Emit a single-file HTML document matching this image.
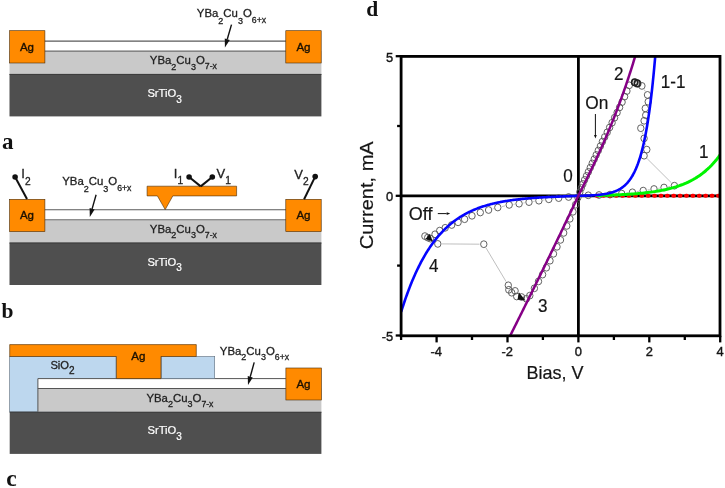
<!DOCTYPE html>
<html><head><meta charset="utf-8"><title>Figure</title>
<style>html,body{margin:0;padding:0;background:#fff;}svg{display:block;}text{font-family:'Liberation Sans', sans-serif;}</style>
</head><body>
<svg width="725" height="488" viewBox="0 0 725 488">
<rect width="725" height="488" fill="#fff"/>
<g id="pa">
<rect x="9.5" y="51.099999999999994" width="311.9" height="23.6" fill="#c9c9c9"/><rect x="9.5" y="74.1" width="311.9" height="42.3" fill="#4f4f4f"/><line x1="9.5" y1="74.4" x2="321.4" y2="74.4" stroke="#3a3a3a" stroke-width="1"/><rect x="44" y="41.1" width="243" height="10" fill="#fff"/><line x1="44" y1="41.1" x2="287" y2="41.1" stroke="#5a5a5a" stroke-width="1.1"/><line x1="44" y1="51.099999999999994" x2="287" y2="51.099999999999994" stroke="#6a6a6a" stroke-width="1.1"/><rect x="9.6" y="30.7" width="35.3" height="32.3" fill="#ff8a00" stroke="#4a2c08" stroke-width="0.6"/><text x="27" y="50.7" font-size="11.5" fill="#1a1000" text-anchor="middle" stroke="#1a1000" stroke-width="0.35">Ag</text><rect x="285.8" y="30.7" width="35.4" height="32.3" fill="#ff8a00" stroke="#4a2c08" stroke-width="0.6"/><text x="303.5" y="50.7" font-size="11.5" fill="#1a1000" text-anchor="middle" stroke="#1a1000" stroke-width="0.35">Ag</text><text x="149.8" y="63.900000000000006" font-size="11.4" fill="#222" stroke="#222" stroke-width="0.3">YBa<tspan font-size="9" dy="5.8">2</tspan><tspan dy="-5.8">Cu</tspan><tspan font-size="9" dy="5.8">3</tspan><tspan dy="-5.8">O</tspan><tspan font-size="8.7" dy="5.5">7-x</tspan></text><text x="147.4" y="97.2" font-size="11.2" fill="#fff" stroke="#fff" stroke-width="0.2">SrTiO<tspan font-size="10" dy="5.6">3</tspan></text>
<text x="196.8" y="16.8" font-size="11.4" fill="#222" stroke="#222" stroke-width="0.3">YBa<tspan font-size="9" dy="6.9">2</tspan><tspan dy="-6.9">Cu</tspan><tspan font-size="9" dy="6.9">3</tspan><tspan dy="-6.9">O</tspan><tspan font-size="8.7" dy="6.6000000000000005">6+x</tspan></text>
<line x1="231.5" y1="24.6" x2="227.26" y2="39.24" stroke="#111" stroke-width="1.4"/><polygon points="224.9,47.4 224.77,38.51 229.76,39.96" fill="#111"/>
</g>
<text x="2" y="148.7" font-size="23" font-weight="bold" style="font-family:'Liberation Serif', serif" fill="#111">a</text>
<g id="pb">
<rect x="9.5" y="219.70000000000002" width="311.9" height="23.6" fill="#c9c9c9"/><rect x="9.5" y="242.70000000000002" width="311.9" height="42.3" fill="#4f4f4f"/><line x1="9.5" y1="243.0" x2="321.4" y2="243.0" stroke="#3a3a3a" stroke-width="1"/><rect x="44" y="209.70000000000002" width="243" height="10" fill="#fff"/><line x1="44" y1="209.70000000000002" x2="287" y2="209.70000000000002" stroke="#5a5a5a" stroke-width="1.1"/><line x1="44" y1="219.70000000000002" x2="287" y2="219.70000000000002" stroke="#6a6a6a" stroke-width="1.1"/><rect x="9.6" y="199.3" width="35.3" height="32.3" fill="#ff8a00" stroke="#4a2c08" stroke-width="0.6"/><text x="27" y="219.3" font-size="11.5" fill="#1a1000" text-anchor="middle" stroke="#1a1000" stroke-width="0.35">Ag</text><rect x="285.8" y="199.3" width="35.4" height="32.3" fill="#ff8a00" stroke="#4a2c08" stroke-width="0.6"/><text x="303.5" y="219.3" font-size="11.5" fill="#1a1000" text-anchor="middle" stroke="#1a1000" stroke-width="0.35">Ag</text><text x="149.8" y="232.5" font-size="11.4" fill="#222" stroke="#222" stroke-width="0.3">YBa<tspan font-size="9" dy="5.8">2</tspan><tspan dy="-5.8">Cu</tspan><tspan font-size="9" dy="5.8">3</tspan><tspan dy="-5.8">O</tspan><tspan font-size="8.7" dy="5.5">7-x</tspan></text><text x="147.4" y="265.8" font-size="11.2" fill="#fff" stroke="#fff" stroke-width="0.2">SrTiO<tspan font-size="10" dy="5.6">3</tspan></text>
<text x="62.2" y="185.2" font-size="11.4" fill="#222" stroke="#222" stroke-width="0.3">YBa<tspan font-size="9" dy="6.4">2</tspan><tspan dy="-6.4">Cu</tspan><tspan font-size="9" dy="6.4">3</tspan><tspan dy="-6.4">O</tspan><tspan font-size="8.7" dy="6.1000000000000005">6+x</tspan></text>
<line x1="96.1" y1="194.7" x2="92.11" y2="208.82" stroke="#111" stroke-width="1.4"/><polygon points="89.8,217 89.61,208.11 94.61,209.53" fill="#111"/>
<path d="M147.1 186.2 H236.6 V195.9 H172.8 L165.2 209.6 L157.4 195.9 H147.1 Z" fill="#ff8a00" stroke="#4a2c08" stroke-width="0.6"/>
<line x1="15.1" y1="177" x2="27" y2="199" stroke="#111" stroke-width="2.0"/><circle cx="15.1" cy="177" r="2.8" fill="#111"/>
<line x1="189.1" y1="177" x2="200.7" y2="186.4" stroke="#111" stroke-width="2.0"/><circle cx="189.1" cy="177" r="2.8" fill="#111"/>
<line x1="212.3" y1="177" x2="200.7" y2="186.4" stroke="#111" stroke-width="2.0"/><circle cx="212.3" cy="177" r="2.8" fill="#111"/>
<line x1="315.2" y1="176.6" x2="304.1" y2="199.2" stroke="#111" stroke-width="2.0"/><circle cx="315.2" cy="176.6" r="2.8" fill="#111"/>
<text x="21.3" y="178.3" font-size="13" fill="#222" stroke="#222" stroke-width="0.3">I<tspan font-size="10.2" dy="6.5">2</tspan></text>
<text x="173.8" y="178" font-size="13" fill="#222" stroke="#222" stroke-width="0.3">I<tspan font-size="10.2" dy="5.6">1</tspan></text>
<text x="216.5" y="178" font-size="13" fill="#222" stroke="#222" stroke-width="0.3">V<tspan font-size="10.2" dy="5.6">1</tspan></text>
<text x="294.3" y="178.8" font-size="13" fill="#222" stroke="#222" stroke-width="0.3">V<tspan font-size="10.2" dy="6">2</tspan></text>
</g>
<text x="1.5" y="317.6" font-size="21.5" font-weight="bold" style="font-family:'Liberation Serif', serif" fill="#111">b</text>
<g id="pc">
<rect x="9.7" y="411.8" width="311.7" height="42.1" fill="#4f4f4f"/>
<rect x="9.7" y="356.5" width="106.3" height="55.4" fill="#bdd7ee" stroke="#5a6a7a" stroke-width="0.6"/>
<rect x="37.9" y="388.3" width="283.5" height="23.6" fill="#c9c9c9"/>
<line x1="9.7" y1="412.2" x2="321.4" y2="412.2" stroke="#3a3a3a" stroke-width="1"/>
<rect x="37.9" y="378.6" width="247.4" height="9.7" fill="#fff"/>
<path d="M37.9 411.8 V378.6 H285.9 M37.9 388.5 H285.9" fill="none" stroke="#555" stroke-width="1"/>
<rect x="161.3" y="356.5" width="53.4" height="22.1" fill="#bdd7ee" stroke="#5a6a7a" stroke-width="0.6"/>
<path d="M9.7 344.6 H196.3 V356.5 H160.9 V378.6 H116.5 V356.5 H9.7 Z" fill="#ff8a00" stroke="#4a2c08" stroke-width="0.6"/>
<rect x="285.9" y="368.0" width="35.5" height="32" fill="#ff8a00" stroke="#4a2c08" stroke-width="0.6"/>
<text x="303.5" y="388" font-size="11.5" fill="#1a1000" text-anchor="middle" stroke="#1a1000" stroke-width="0.35">Ag</text>
<text x="138.3" y="359.8" font-size="11.5" fill="#1a1000" text-anchor="middle" stroke="#1a1000" stroke-width="0.35">Ag</text>
<text x="50.4" y="368.8" font-size="11.2" fill="#222" stroke="#222" stroke-width="0.3">SiO<tspan font-size="10" dy="5.4">2</tspan></text>
<text x="219.8" y="354.6" font-size="11.4" fill="#222" stroke="#222" stroke-width="0.3">YBa<tspan font-size="9" dy="5.4">2</tspan><tspan dy="-5.4">Cu</tspan><tspan font-size="9" dy="5.4">3</tspan><tspan dy="-5.4">O</tspan><tspan font-size="8.7" dy="5.1000000000000005">6+x</tspan></text>
<line x1="254.2" y1="362.4" x2="250.25" y2="376.80" stroke="#111" stroke-width="1.4"/><polygon points="248,385 247.74,376.12 252.76,377.49" fill="#111"/>
<text x="146.4" y="401.6" font-size="11.4" fill="#222" stroke="#222" stroke-width="0.3">YBa<tspan font-size="9" dy="5.6">2</tspan><tspan dy="-5.6">Cu</tspan><tspan font-size="9" dy="5.6">3</tspan><tspan dy="-5.6">O</tspan><tspan font-size="8.7" dy="5.3">7-x</tspan></text>
<text x="147.5" y="434.2" font-size="11.2" fill="#fff" stroke="#fff" stroke-width="0.2">SrTiO<tspan font-size="10" dy="5.8">3</tspan></text>
</g>
<text x="6.3" y="486.2" font-size="23.5" font-weight="bold" style="font-family:'Liberation Serif', serif" fill="#111">c</text>
<text x="366.3" y="16" font-size="21.5" font-weight="bold" style="font-family:'Liberation Serif', serif" fill="#111">d</text>
<defs><clipPath id="cp"><rect x="401.1" y="56.4" width="318.9" height="279.4"/></clipPath></defs>
<g id="pd">
<line x1="401.1" y1="195.8" x2="720.0" y2="195.8" stroke="#000" stroke-width="2.8"/>
<line x1="578.4" y1="56.4" x2="578.4" y2="335.8" stroke="#000" stroke-width="2.8"/>
<path d="M592.6 195.2 L594.7 195.1 M603.3 194.8 L605.7 194.8 M614.3 194.2 L617.4 194.0 M626.0 193.1 L628.1 192.8 M636.6 191.6 L639.0 191.3 M647.5 190.0 L649.7 189.6 M658.3 188.4 L659.7 188.1 M668.2 186.8 L670.2 186.4 M671.3 182.7 L647.2 158.7 M645.8 145.4 L645.1 142.6 M642.8 134.3 L642.1 132.3 M645.2 91.2 L644.2 89.6 M506.1 281.6 L486.0 247.9 M479.5 244.2 L442.1 243.9 M434.3 241.4 L433.9 241.1 M429.1 235.3 L430.8 235.1 M492.7 208.9 L493.7 208.6 M502.0 206.6 L505.0 205.9 M513.5 204.4 L514.8 204.2 M523.4 203.0 L524.7 202.8 M533.3 201.5 L534.6 201.3 M543.2 200.1 L544.5 199.9 M553.1 198.8 L554.4 198.6 M563.0 197.6 L564.3 197.5" fill="none" stroke="#b8b8b8" stroke-width="0.9"/>
<g fill="none" stroke="#5a5a5a" stroke-width="0.95">
<ellipse cx="588.3" cy="195.3" rx="3.2" ry="3.4"/>
<ellipse cx="599.0" cy="195.0" rx="3.2" ry="3.4"/>
<ellipse cx="610.0" cy="194.6" rx="3.2" ry="3.4"/>
<ellipse cx="621.7" cy="193.6" rx="3.2" ry="3.4"/>
<ellipse cx="632.4" cy="192.3" rx="3.2" ry="3.4"/>
<ellipse cx="643.2" cy="190.6" rx="3.2" ry="3.4"/>
<ellipse cx="654.0" cy="189.0" rx="3.2" ry="3.4"/>
<ellipse cx="664.0" cy="187.5" rx="3.2" ry="3.4"/>
<ellipse cx="674.4" cy="185.7" rx="3.2" ry="3.4"/>
<ellipse cx="644.1" cy="155.7" rx="3.2" ry="3.4"/>
<ellipse cx="646.8" cy="149.6" rx="3.2" ry="3.4"/>
<ellipse cx="644.1" cy="138.4" rx="3.2" ry="3.4"/>
<ellipse cx="640.8" cy="128.2" rx="3.2" ry="3.4"/>
<ellipse cx="644.1" cy="120.8" rx="3.2" ry="3.4"/>
<ellipse cx="645.7" cy="115.2" rx="3.2" ry="3.4"/>
<ellipse cx="645.3" cy="108.4" rx="3.2" ry="3.4"/>
<ellipse cx="648.2" cy="101.7" rx="3.2" ry="3.4"/>
<ellipse cx="647.5" cy="94.9" rx="3.2" ry="3.4"/>
<ellipse cx="641.9" cy="85.9" rx="3.2" ry="3.4"/>
<ellipse cx="638.0" cy="83.6" rx="3.2" ry="3.4"/>
<ellipse cx="635.1" cy="82.5" rx="3.2" ry="3.4"/>
<ellipse cx="629.3" cy="85.3" rx="3.2" ry="3.4"/>
<ellipse cx="626.9" cy="91.0" rx="3.2" ry="3.4"/>
<ellipse cx="624.6" cy="96.6" rx="3.2" ry="3.4"/>
<ellipse cx="622.1" cy="102.1" rx="3.2" ry="3.4"/>
<ellipse cx="619.6" cy="107.4" rx="3.2" ry="3.4"/>
<ellipse cx="617.1" cy="112.6" rx="3.2" ry="3.4"/>
<ellipse cx="614.6" cy="117.7" rx="3.2" ry="3.4"/>
<ellipse cx="612.1" cy="122.7" rx="3.2" ry="3.4"/>
<ellipse cx="609.6" cy="127.5" rx="3.2" ry="3.4"/>
<ellipse cx="607.2" cy="132.3" rx="3.2" ry="3.4"/>
<ellipse cx="604.7" cy="137.0" rx="3.2" ry="3.4"/>
<ellipse cx="602.4" cy="141.6" rx="3.2" ry="3.4"/>
<ellipse cx="600.4" cy="146.1" rx="3.2" ry="3.4"/>
<ellipse cx="598.3" cy="150.5" rx="3.2" ry="3.4"/>
<ellipse cx="596.2" cy="154.9" rx="3.2" ry="3.4"/>
<ellipse cx="594.2" cy="159.2" rx="3.2" ry="3.4"/>
<ellipse cx="592.2" cy="163.4" rx="3.2" ry="3.4"/>
<ellipse cx="590.3" cy="167.6" rx="3.2" ry="3.4"/>
<ellipse cx="588.4" cy="171.8" rx="3.2" ry="3.4"/>
<ellipse cx="586.5" cy="175.9" rx="3.2" ry="3.4"/>
<ellipse cx="584.6" cy="179.9" rx="3.2" ry="3.4"/>
<ellipse cx="582.9" cy="184.0" rx="3.2" ry="3.4"/>
<ellipse cx="581.3" cy="188.0" rx="3.2" ry="3.4"/>
<ellipse cx="579.8" cy="192.1" rx="3.2" ry="3.4"/>
<ellipse cx="577.9" cy="197.6" rx="3.2" ry="3.4"/>
<ellipse cx="575.6" cy="204.7" rx="3.2" ry="3.4"/>
<ellipse cx="573.0" cy="211.8" rx="3.2" ry="3.4"/>
<ellipse cx="569.9" cy="218.8" rx="3.2" ry="3.4"/>
<ellipse cx="566.8" cy="225.9" rx="3.2" ry="3.4"/>
<ellipse cx="563.7" cy="232.9" rx="3.2" ry="3.4"/>
<ellipse cx="560.5" cy="239.9" rx="3.2" ry="3.4"/>
<ellipse cx="557.0" cy="246.8" rx="3.2" ry="3.4"/>
<ellipse cx="553.5" cy="253.8" rx="3.2" ry="3.4"/>
<ellipse cx="550.0" cy="260.7" rx="3.2" ry="3.4"/>
<ellipse cx="546.4" cy="267.7" rx="3.2" ry="3.4"/>
<ellipse cx="542.6" cy="274.6" rx="3.2" ry="3.4"/>
<ellipse cx="538.5" cy="281.4" rx="3.2" ry="3.4"/>
<ellipse cx="534.4" cy="288.3" rx="3.2" ry="3.4"/>
<ellipse cx="529.8" cy="295.6" rx="3.2" ry="3.4"/>
<ellipse cx="526.4" cy="298.8" rx="3.2" ry="3.4"/>
<ellipse cx="521.5" cy="297.0" rx="3.2" ry="3.4"/>
<ellipse cx="516.7" cy="296.5" rx="3.2" ry="3.4"/>
<ellipse cx="515.1" cy="290.9" rx="3.2" ry="3.4"/>
<ellipse cx="511.7" cy="292.7" rx="3.2" ry="3.4"/>
<ellipse cx="508.8" cy="289.8" rx="3.2" ry="3.4"/>
<ellipse cx="508.3" cy="285.3" rx="3.2" ry="3.4"/>
<ellipse cx="483.8" cy="244.2" rx="3.2" ry="3.4"/>
<ellipse cx="437.8" cy="243.9" rx="3.2" ry="3.4"/>
<ellipse cx="430.4" cy="238.6" rx="3.2" ry="3.4"/>
<ellipse cx="427.7" cy="237.6" rx="3.2" ry="3.4"/>
<ellipse cx="424.9" cy="236.1" rx="3.2" ry="3.4"/>
<ellipse cx="435.0" cy="234.3" rx="3.2" ry="3.4"/>
<ellipse cx="439.7" cy="230.6" rx="3.2" ry="3.4"/>
<ellipse cx="445.2" cy="227.8" rx="3.2" ry="3.4"/>
<ellipse cx="451.7" cy="225.0" rx="3.2" ry="3.4"/>
<ellipse cx="458.1" cy="222.3" rx="3.2" ry="3.4"/>
<ellipse cx="464.6" cy="219.2" rx="3.2" ry="3.4"/>
<ellipse cx="472.0" cy="215.8" rx="3.2" ry="3.4"/>
<ellipse cx="480.3" cy="212.5" rx="3.2" ry="3.4"/>
<ellipse cx="488.6" cy="210.0" rx="3.2" ry="3.4"/>
<ellipse cx="497.8" cy="207.5" rx="3.2" ry="3.4"/>
<ellipse cx="509.2" cy="204.9" rx="3.2" ry="3.4"/>
<ellipse cx="519.1" cy="203.7" rx="3.2" ry="3.4"/>
<ellipse cx="529.0" cy="202.1" rx="3.2" ry="3.4"/>
<ellipse cx="538.9" cy="200.7" rx="3.2" ry="3.4"/>
<ellipse cx="548.8" cy="199.3" rx="3.2" ry="3.4"/>
<ellipse cx="558.7" cy="198.1" rx="3.2" ry="3.4"/>
<ellipse cx="568.6" cy="197.0" rx="3.2" ry="3.4"/>
</g>
<g fill="none" stroke="#222" stroke-width="1.5"><ellipse cx="634.6" cy="82.3" rx="3" ry="3.3"/><ellipse cx="637.2" cy="83.4" rx="3" ry="3.3"/></g>
<polygon points="519,292.5 525.5,300.5 517.5,299.5" fill="#111"/>
<polygon points="429.5,234 433,241.5 425.5,239" fill="#111"/>
<g clip-path="url(#cp)" fill="none" stroke-linejoin="round">
<line x1="596.59" y1="195.8" x2="720.0" y2="195.8" stroke="#ff0000" stroke-width="4.0" stroke-linecap="round" stroke-dasharray="0.9 5.49" stroke-dashoffset="0"/>
<path d="M596.12 195.52 L597.90 195.48 L599.67 195.44 L601.44 195.39 L603.22 195.35 L604.99 195.30 L606.76 195.24 L608.53 195.19 L610.30 195.13 L612.08 195.07 L613.85 195.00 L615.62 194.93 L617.39 194.85 L619.17 194.77 L620.94 194.69 L622.71 194.60 L624.49 194.50 L626.26 194.40 L628.03 194.30 L629.80 194.18 L631.58 194.06 L633.35 193.93 L635.12 193.80 L636.89 193.65 L638.66 193.50 L640.44 193.33 L642.21 193.16 L643.98 192.98 L645.75 192.78 L647.53 192.58 L649.30 192.36 L651.07 192.12 L652.85 191.87 L654.62 191.61 L656.39 191.33 L658.16 191.04 L659.93 190.72 L661.71 190.39 L663.48 190.03 L665.25 189.66 L667.02 189.26 L668.80 188.83 L670.57 188.38 L672.34 187.90 L674.11 187.39 L675.89 186.86 L677.66 186.28 L679.43 185.68 L681.20 185.03 L682.98 184.35 L684.75 183.62 L686.52 182.85 L688.29 182.03 L690.07 181.16 L691.84 180.24 L693.61 179.26 L695.38 178.22 L697.16 177.12 L698.93 175.94 L700.70 174.70 L702.47 173.38 L704.25 171.98 L706.02 170.49 L707.79 168.91 L709.56 167.23 L711.34 165.45 L713.11 163.56 L714.88 161.56 L716.65 159.43 L718.43 157.16 L720.20 154.76" stroke="#00f400" stroke-width="3.0"/>
<path d="M401.15 311.94 L401.86 309.68 L402.57 307.45 L403.28 305.26 L403.99 303.12 L404.69 301.02 L405.40 298.95 L406.11 296.93 L406.82 294.94 L407.53 292.99 L408.24 291.08 L408.95 289.20 L409.66 287.36 L410.37 285.55 L411.08 283.78 L411.78 282.04 L412.49 280.34 L413.20 278.66 L413.91 277.02 L414.62 275.41 L415.33 273.83 L416.04 272.28 L416.75 270.76 L417.46 269.27 L418.17 267.81 L418.87 266.37 L419.58 264.96 L420.29 263.58 L421.00 262.23 L421.71 260.90 L422.42 259.60 L423.13 258.32 L423.84 257.07 L424.55 255.84 L425.26 254.64 L425.96 253.45 L426.67 252.29 L427.38 251.16 L428.09 250.04 L428.80 248.95 L429.51 247.88 L430.22 246.83 L430.93 245.80 L431.64 244.79 L432.35 243.79 L433.05 242.82 L433.76 241.87 L434.47 240.93 L435.18 240.02 L435.89 239.12 L436.60 238.24 L437.31 237.38 L438.02 236.53 L438.73 235.70 L439.44 234.89 L440.14 234.09 L440.85 233.31 L441.56 232.54 L442.27 231.79 L442.98 231.05 L443.69 230.33 L444.40 229.62 L445.11 228.92 L445.82 228.24 L446.53 227.58 L447.23 226.92 L447.94 226.28 L448.65 225.65 L449.36 225.04 L450.07 224.44 L450.78 223.84 L451.49 223.26 L452.20 222.70 L452.91 222.14 L453.62 221.59 L454.32 221.06 L455.03 220.53 L455.74 220.02 L456.45 219.52 L457.16 219.02 L457.87 218.54 L458.58 218.07 L459.29 217.60 L460.00 217.15 L460.71 216.70 L461.41 216.26 L462.12 215.84 L462.83 215.42 L463.54 215.01 L464.25 214.60 L464.96 214.21 L465.67 213.82 L466.38 213.44 L467.09 213.07 L467.80 212.71 L468.50 212.35 L469.21 212.00 L469.92 211.66 L470.63 211.33 L471.34 211.00 L472.05 210.68 L472.76 210.36 L473.47 210.05 L474.18 209.75 L474.89 209.46 L475.59 209.17 L476.30 208.88 L477.01 208.60 L477.72 208.33 L478.43 208.06 L479.14 207.80 L479.85 207.55 L480.56 207.30 L481.27 207.05 L481.98 206.81 L482.68 206.57 L483.39 206.34 L484.10 206.12 L484.81 205.90 L485.52 205.68 L486.23 205.47 L486.94 205.26 L487.65 205.06 L488.36 204.86 L489.07 204.66 L489.77 204.47 L490.48 204.28 L491.19 204.10 L491.90 203.92 L492.61 203.74 L493.32 203.57 L494.03 203.40 L494.74 203.24 L495.45 203.08 L496.16 202.92 L496.86 202.76 L497.57 202.61 L498.28 202.46 L498.99 202.32 L499.70 202.18 L500.41 202.04 L501.12 201.90 L501.83 201.77 L502.54 201.64 L503.25 201.51 L503.95 201.38 L504.66 201.26 L505.37 201.14 L506.08 201.02 L506.79 200.91 L507.50 200.80 L508.21 200.68 L508.92 200.58 L509.63 200.47 L510.34 200.37 L511.04 200.27 L511.75 200.17 L512.46 200.07 L513.17 199.97 L513.88 199.88 L514.59 199.79 L515.30 199.70 L516.01 199.61 L516.72 199.53 L517.43 199.45 L518.13 199.36 L518.84 199.28 L519.55 199.20 L520.26 199.13 L520.97 199.05 L521.68 198.98 L522.39 198.91 L523.10 198.84 L523.81 198.77 L524.52 198.70 L525.22 198.63 L525.93 198.57 L526.64 198.50 L527.35 198.44 L528.06 198.38 L528.77 198.32 L529.48 198.26 L530.19 198.21 L530.90 198.15 L531.61 198.09 L532.31 198.04 L533.02 197.99 L533.73 197.94 L534.44 197.88 L535.15 197.83 L535.86 197.79 L536.57 197.74 L537.28 197.69 L537.99 197.65 L538.70 197.60 L539.40 197.56 L540.11 197.51 L540.82 197.47 L541.53 197.43 L542.24 197.39 L542.95 197.35 L543.66 197.31 L544.37 197.27 L545.08 197.23 L545.79 197.19 L546.49 197.16 L547.20 197.12 L547.91 197.08 L548.62 197.05 L549.33 197.01 L550.04 196.98 L550.75 196.95 L551.46 196.91 L552.17 196.88 L552.88 196.85 L553.58 196.82 L554.29 196.79 L555.00 196.76 L555.71 196.72 L556.42 196.69 L557.13 196.66 L557.84 196.64 L558.55 196.61 L559.26 196.58 L559.97 196.55 L560.67 196.52 L561.38 196.49 L562.09 196.46 L562.80 196.43 L563.51 196.41 L564.22 196.38 L564.93 196.35 L565.64 196.32 L566.35 196.30 L567.06 196.27 L567.76 196.24 L568.47 196.21 L569.18 196.18 L569.89 196.16 L570.60 196.13 L571.31 196.10 L572.02 196.07 L572.73 196.04 L573.44 196.01 L574.15 195.98 L574.85 195.95 L575.56 195.92 L576.27 195.89 L576.98 195.86 L577.69 195.83 L578.40 195.80 L579.11 195.79 L579.82 195.77 L580.53 195.76 L581.24 195.74 L581.94 195.73 L582.65 195.71 L583.36 195.69 L584.07 195.67 L584.78 195.65 L585.49 195.63 L586.20 195.60 L586.91 195.58 L587.62 195.55 L588.33 195.52 L589.03 195.49 L589.74 195.46 L590.45 195.43 L591.16 195.39 L591.87 195.35 L592.58 195.31 L593.29 195.27 L594.00 195.23 L594.71 195.18 L595.42 195.13 L596.12 195.07 L596.83 195.01 L597.54 194.95 L598.25 194.89 L598.96 194.82 L599.67 194.74 L600.38 194.66 L601.09 194.58 L601.80 194.49 L602.51 194.40 L603.21 194.30 L603.92 194.19 L604.63 194.08 L605.34 193.96 L606.05 193.83 L606.76 193.70 L607.47 193.56 L608.18 193.41 L608.89 193.25 L609.60 193.07 L610.30 192.89 L611.01 192.70 L611.72 192.50 L612.43 192.28 L613.14 192.05 L613.85 191.80 L614.56 191.54 L615.27 191.27 L615.98 190.97 L616.69 190.66 L617.39 190.33 L618.10 189.98 L618.81 189.61 L619.52 189.21 L620.23 188.79 L620.94 188.34 L621.65 187.87 L622.36 187.37 L623.07 186.83 L623.78 186.26 L624.48 185.66 L625.19 185.02 L625.90 184.34 L626.61 183.62 L627.32 182.85 L628.03 182.04 L628.74 181.18 L629.45 180.26 L630.16 179.29 L630.87 178.25 L631.57 177.15 L632.28 175.99 L632.99 174.75 L633.70 173.43 L634.41 172.04 L635.12 170.56 L635.83 168.98 L636.54 167.31 L637.25 165.54 L637.96 163.65 L638.66 161.65 L639.37 159.53 L640.08 157.27 L640.79 154.87 L641.50 152.33 L642.21 149.63 L642.92 146.76 L643.63 143.72 L644.34 140.48 L645.05 137.05 L645.75 133.40 L646.46 129.53 L647.17 125.42 L647.88 121.06 L648.59 116.42 L649.30 111.50 L650.01 106.28 L650.72 100.73 L651.43 94.83 L652.14 88.58 L652.84 81.94 L653.55 74.88 L654.26 67.39 L654.97 59.44 L655.68 50.99 L656.39 42.03 L657.10 32.50 L657.81 22.39 L658.52 11.66 L659.23 0.26 L659.93 -11.85 L660.64 -24.70 L661.35 -38.35 L662.06 -52.84 L662.77 -68.23 L663.48 -84.57" stroke="#0505ff" stroke-width="2.6"/>
<path d="M507.50 341.04 L508.21 339.63 L508.92 338.22 L509.63 336.81 L510.34 335.40 L511.04 333.99 L511.75 332.57 L512.46 331.16 L513.17 329.75 L513.88 328.33 L514.59 326.91 L515.30 325.50 L516.01 324.08 L516.72 322.66 L517.43 321.24 L518.13 319.82 L518.84 318.40 L519.55 316.98 L520.26 315.55 L520.97 314.13 L521.68 312.70 L522.39 311.28 L523.10 309.85 L523.81 308.42 L524.52 306.99 L525.23 305.56 L525.93 304.13 L526.64 302.70 L527.35 301.27 L528.06 299.84 L528.77 298.40 L529.48 296.97 L530.19 295.53 L530.90 294.10 L531.61 292.66 L532.32 291.22 L533.02 289.78 L533.73 288.34 L534.44 286.90 L535.15 285.46 L535.86 284.01 L536.57 282.57 L537.28 281.13 L537.99 279.68 L538.70 278.23 L539.40 276.79 L540.11 275.34 L540.82 273.89 L541.53 272.44 L542.24 270.99 L542.95 269.54 L543.66 268.08 L544.37 266.63 L545.08 265.17 L545.79 263.72 L546.50 262.26 L547.20 260.80 L547.91 259.35 L548.62 257.89 L549.33 256.43 L550.04 254.97 L550.75 253.51 L551.46 252.04 L552.17 250.58 L552.88 249.11 L553.59 247.65 L554.29 246.18 L555.00 244.72 L555.71 243.25 L556.42 241.78 L557.13 240.31 L557.84 238.84 L558.55 237.37 L559.26 235.89 L559.97 234.42 L560.68 232.95 L561.38 231.47 L562.09 230.00 L562.80 228.52 L563.51 227.04 L564.22 225.56 L564.93 224.08 L565.64 222.60 L566.35 221.12 L567.06 219.64 L567.76 218.16 L568.47 216.67 L569.18 215.19 L569.89 213.70 L570.60 212.21 L571.31 210.73 L572.02 209.24 L572.73 207.75 L573.44 206.26 L574.15 204.77 L574.86 203.27 L575.56 201.78 L576.27 200.29 L576.98 198.79 L577.69 197.30 L578.40 195.80 L579.11 194.36 L579.82 192.93 L580.53 191.49 L581.24 190.05 L581.95 188.62 L582.65 187.18 L583.36 185.73 L584.07 184.29 L584.78 182.84 L585.49 181.40 L586.20 179.95 L586.91 178.49 L587.62 177.03 L588.33 175.57 L589.04 174.11 L589.74 172.64 L590.45 171.16 L591.16 169.68 L591.87 168.20 L592.58 166.71 L593.29 165.21 L594.00 163.71 L594.71 162.20 L595.42 160.69 L596.12 159.17 L596.83 157.64 L597.54 156.10 L598.25 154.56 L598.96 153.01 L599.67 151.45 L600.38 149.88 L601.09 148.30 L601.80 146.71 L602.51 145.12 L603.22 143.51 L603.92 141.90 L604.63 140.27 L605.34 138.64 L606.05 136.99 L606.76 135.33 L607.47 133.66 L608.18 131.98 L608.89 130.29 L609.60 128.58 L610.31 126.86 L611.01 125.13 L611.72 123.39 L612.43 121.63 L613.14 119.86 L613.85 118.07 L614.56 116.27 L615.27 114.46 L615.98 112.63 L616.69 110.78 L617.40 108.92 L618.10 107.05 L618.81 105.16 L619.52 103.25 L620.23 101.32 L620.94 99.38 L621.65 97.43 L622.36 95.45 L623.07 93.46 L623.78 91.45 L624.49 89.42 L625.19 87.37 L625.90 85.30 L626.61 83.21 L627.32 81.11 L628.03 78.98 L628.74 76.84 L629.45 74.67 L630.16 72.49 L630.87 70.28 L631.58 68.05 L632.28 65.80 L632.99 63.53 L633.70 61.24 L634.41 58.92 L635.12 56.58 L635.83 54.22 L636.54 51.84 L637.25 49.43 L637.96 47.00 L638.67 44.55 L639.37 42.07 L640.08 39.56 L640.79 37.03 L641.50 34.48" stroke="#860086" stroke-width="2.5"/>
</g>
<rect x="401.1" y="56.4" width="318.9" height="279.40000000000003" fill="none" stroke="#000" stroke-width="2.8"/>
<line x1="401.1" y1="335.8" x2="401.1" y2="340.0" stroke="#000" stroke-width="2.3"/>
<line x1="436.6" y1="335.8" x2="436.6" y2="342.40000000000003" stroke="#000" stroke-width="2.3"/>
<line x1="472.0" y1="335.8" x2="472.0" y2="340.0" stroke="#000" stroke-width="2.3"/>
<line x1="507.5" y1="335.8" x2="507.5" y2="342.40000000000003" stroke="#000" stroke-width="2.3"/>
<line x1="542.9" y1="335.8" x2="542.9" y2="340.0" stroke="#000" stroke-width="2.3"/>
<line x1="578.4" y1="335.8" x2="578.4" y2="342.40000000000003" stroke="#000" stroke-width="2.3"/>
<line x1="613.9" y1="335.8" x2="613.9" y2="340.0" stroke="#000" stroke-width="2.3"/>
<line x1="649.3" y1="335.8" x2="649.3" y2="342.40000000000003" stroke="#000" stroke-width="2.3"/>
<line x1="684.8" y1="335.8" x2="684.8" y2="340.0" stroke="#000" stroke-width="2.3"/>
<line x1="720.2" y1="335.8" x2="720.2" y2="342.40000000000003" stroke="#000" stroke-width="2.3"/>
<line x1="395.70000000000005" y1="56.2" x2="401.1" y2="56.2" stroke="#000" stroke-width="2.3"/>
<line x1="397.1" y1="126.0" x2="401.1" y2="126.0" stroke="#000" stroke-width="2.3"/>
<line x1="395.70000000000005" y1="195.8" x2="401.1" y2="195.8" stroke="#000" stroke-width="2.3"/>
<line x1="397.1" y1="265.6" x2="401.1" y2="265.6" stroke="#000" stroke-width="2.3"/>
<line x1="395.70000000000005" y1="335.5" x2="401.1" y2="335.5" stroke="#000" stroke-width="2.3"/>
<text transform="translate(436.29999999999995,355.9) scale(0.95,1)" font-size="13.6" fill="#151515" stroke="#151515" stroke-width="0.4" text-anchor="middle" >-4</text>
<text transform="translate(507.2,355.9) scale(0.95,1)" font-size="13.6" fill="#151515" stroke="#151515" stroke-width="0.4" text-anchor="middle" >-2</text>
<text transform="translate(578.4,355.9) scale(0.95,1)" font-size="13.6" fill="#151515" stroke="#151515" stroke-width="0.4" text-anchor="middle" >0</text>
<text transform="translate(649.3,355.9) scale(0.95,1)" font-size="13.6" fill="#151515" stroke="#151515" stroke-width="0.4" text-anchor="middle" >2</text>
<text transform="translate(720.2,355.9) scale(0.95,1)" font-size="13.6" fill="#151515" stroke="#151515" stroke-width="0.4" text-anchor="middle" >4</text>
<text transform="translate(393.2,61.650000000000006) scale(0.95,1)" font-size="13.6" fill="#151515" stroke="#151515" stroke-width="0.4" text-anchor="end" >5</text>
<text transform="translate(393.2,201.3) scale(0.95,1)" font-size="13.6" fill="#151515" stroke="#151515" stroke-width="0.4" text-anchor="end" >0</text>
<text transform="translate(393.2,340.95000000000005) scale(0.95,1)" font-size="13.6" fill="#151515" stroke="#151515" stroke-width="0.4" text-anchor="end" >-5</text>
<text transform="translate(555,379.3) scale(1.03,1)" font-size="17.5" fill="#151515" stroke="#151515" stroke-width="0.2" text-anchor="middle" >Bias, V</text>
<text transform="translate(372.6,195.3) rotate(-90) scale(1.09,1)" font-size="18.4" fill="#151515" stroke="#151515" stroke-width="0.2" text-anchor="middle">Current, mA</text>
<text transform="translate(563.2,181.7) scale(0.95,1)" font-size="18" fill="#151515" stroke="#151515" stroke-width="0.2" text-anchor="start" >0</text>
<text transform="translate(614,79.8) scale(0.95,1)" font-size="18" fill="#151515" stroke="#151515" stroke-width="0.2" text-anchor="start" >2</text>
<text transform="translate(660.7,88.2) scale(0.95,1)" font-size="18" fill="#151515" stroke="#151515" stroke-width="0.2" text-anchor="start" >1-1</text>
<text transform="translate(699,158.4) scale(0.95,1)" font-size="18" fill="#151515" stroke="#151515" stroke-width="0.2" text-anchor="start" >1</text>
<text transform="translate(585.2,109) scale(0.96,1)" font-size="18" fill="#151515" stroke="#151515" stroke-width="0.2" text-anchor="start" >On</text>
<text transform="translate(408.8,220.4) scale(1.0,1)" font-size="18" fill="#151515" stroke="#151515" stroke-width="0.2" text-anchor="start" >Off</text>
<text transform="translate(429,272) scale(0.95,1)" font-size="18" fill="#151515" stroke="#151515" stroke-width="0.2" text-anchor="start" >4</text>
<text transform="translate(538,312) scale(0.95,1)" font-size="18" fill="#151515" stroke="#151515" stroke-width="0.2" text-anchor="start" >3</text>
<line x1="595.4" y1="114" x2="595.40" y2="135.10" stroke="#111" stroke-width="1.0"/><polygon points="595.4,138.6 594.00,135.10 596.80,135.10" fill="#111"/>
<line x1="437.8" y1="213.6" x2="446.70" y2="213.60" stroke="#111" stroke-width="1.0"/><polygon points="450.2,213.6 446.70,215.00 446.70,212.20" fill="#111"/>
</g>
</svg></body></html>
